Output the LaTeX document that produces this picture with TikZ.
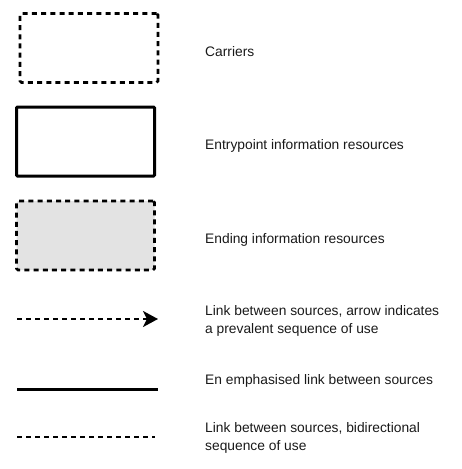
\documentclass[tikz,border=0pt]{standalone}
\usepackage{fontspec}
\setmainfont{Liberation Sans}
\usetikzlibrary{arrows.meta}
\begin{document}
\begin{tikzpicture}[x=1pt,y=-1pt,
  legendbox/.style={minimum width=138pt,minimum height=69pt,inner sep=0pt,rounded corners=1.5pt,line width=2.6pt},
  dashedbox/.style={legendbox,draw=black,dash pattern=on 5pt off 4.2pt},
  solidbox/.style={legendbox,draw=black,line width=3pt,rounded corners=1pt},
  endbox/.style={dashedbox,fill=black!11},
  legtext/.style={anchor=west,inner sep=0pt,align=left,font=\fontsize{13.8}{18}\selectfont,text=black!90},
  dashline/.style={line width=2.6pt,dash pattern=on 4.5pt off 4.5pt}]
\useasboundingbox (0,0) rectangle (461,469);
\node[dashedbox] (carr) at (89,48) {};
\node[solidbox] (entry) at (85.5,141.5) {};
\node[endbox] (endr) at (85.5,235.5) {};
\node[legtext] (tcarr) at (205,52) {Carriers};
\node[legtext] (tentry) at (205,146) {Entrypoint information resources};
\node[legtext] (tend) at (205,240) {Ending information resources};
\coordinate (a1) at (17,319);
\coordinate (a2) at (158,319);
\draw[dashline,-{Stealth[length=15pt,width=16pt,inset=4pt]}] (a1) -- (a2);
\node[legtext] (tarrow) at (205,321) {Link between sources, arrow indicates\\a prevalent sequence of use};
\coordinate (s1) at (17,389);
\coordinate (s2) at (158,389);
\draw[line width=3pt] (s1) -- (s2);
\node[legtext] (tsolid) at (205,381) {En emphasised link between sources};
\coordinate (d1) at (17,437);
\coordinate (d2) at (155,437);
\draw[dashline] (d1) -- (d2);
\node[legtext] (tdash) at (205,438) {Link between sources, bidirectional\\sequence of use};
\end{tikzpicture}
\end{document}
